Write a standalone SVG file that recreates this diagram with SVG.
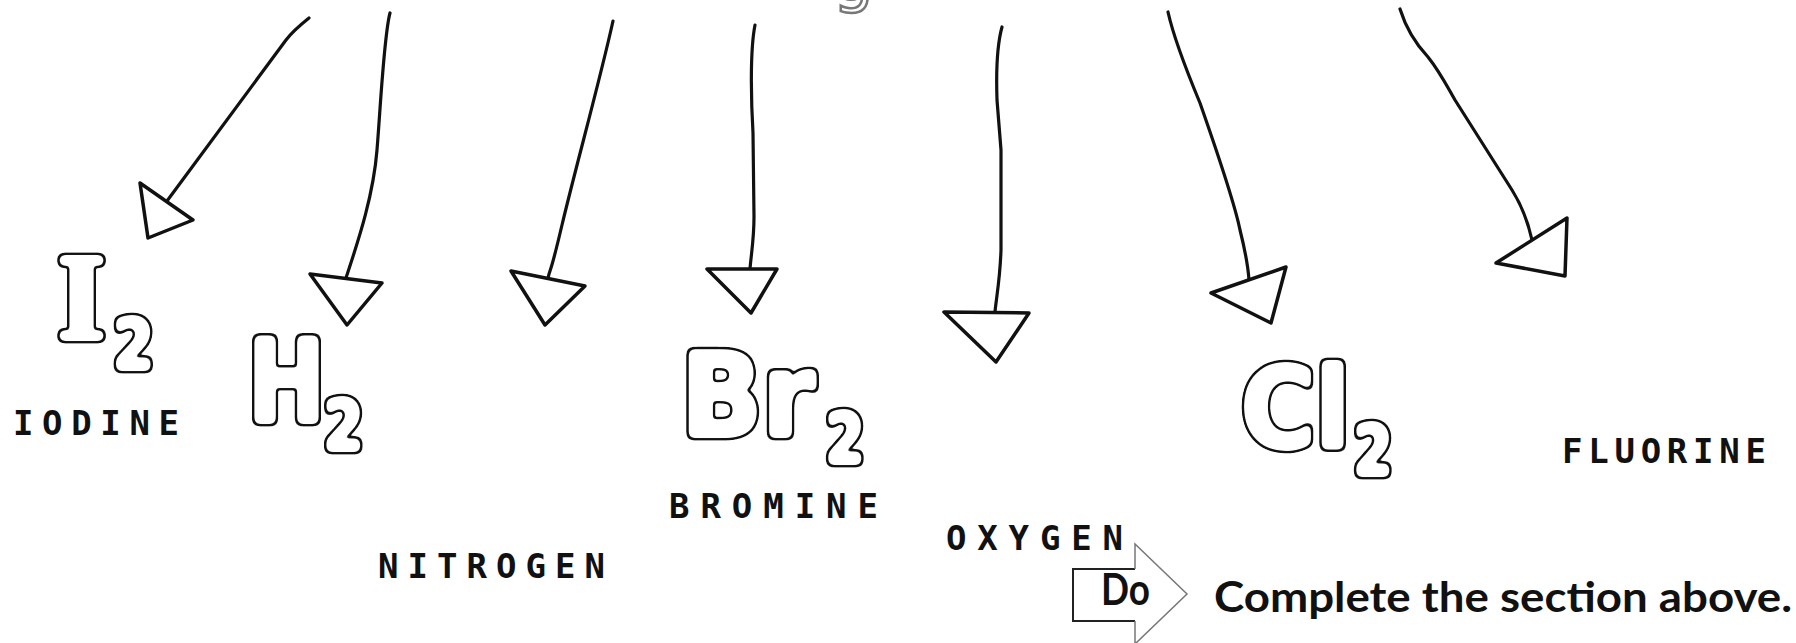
<svg xmlns="http://www.w3.org/2000/svg" width="1796" height="643" viewBox="0 0 1796 643">
  <defs>
    <style>
      .wire { fill: none; stroke: #111; stroke-width: 3.2; stroke-linecap: round; stroke-linejoin: round; }
      .head { fill: #fff; stroke: #111; stroke-width: 3.5; stroke-linejoin: round; }
      .sym { fill: #111; font-family: "DejaVu Sans", "Liberation Sans", sans-serif; font-weight: bold; filter: url(#bubble); }
      .slab { font-family: "DejaVu Serif", "Liberation Serif", serif; }
      .name { fill: #111; font-family: "DejaVu Sans Mono", "Liberation Mono", monospace; font-weight: bold; font-size: 34px; }
      .task { fill: #111; font-family: Lato, "Open Sans", sans-serif; font-weight: bold; }
    </style>
    <!-- bubble lettering: the glyph is swollen with a soft blur + threshold,
         a wider swell gives the black rim and a narrower one the white body -->
    <filter id="bubble" filterUnits="userSpaceOnUse" x="0" y="0" width="1796" height="643" color-interpolation-filters="sRGB">
      <feGaussianBlur in="SourceAlpha" stdDeviation="2.5" result="soft"/>
      <feComponentTransfer in="soft" result="outer">
        <feFuncA type="linear" slope="32" intercept="-0.65"/>
      </feComponentTransfer>
      <feComponentTransfer in="soft" result="inner">
        <feFuncA type="linear" slope="9" intercept="-1.41"/>
      </feComponentTransfer>
      <feFlood flood-color="#111" result="ink"/>
      <feComposite in="ink" in2="outer" operator="in" result="rim"/>
      <feFlood flood-color="#fff" result="paper"/>
      <feComposite in="paper" in2="inner" operator="in" result="body"/>
      <feMerge>
        <feMergeNode in="rim"/>
        <feMergeNode in="body"/>
      </feMerge>
    </filter>
  </defs>

  <rect width="1796" height="643" fill="#fff"/>

  <!-- descender of the heading line, cropped at the top edge -->
  <text x="833" y="0" font-family="DejaVu Sans, sans-serif" font-size="64" fill="#fff" stroke="#777" stroke-width="2.5">g</text>

  <!-- hand-drawn arrows pointing at each element -->
  <g id="connectors">
    <path class="wire" d="M309,18 C299,26 292,32 286,40 L167,201"/>
    <polygon class="head" points="140,183 193,220 148,238"/>

    <path class="wire" d="M390,13 C384,35 381,100 377,150 S355,250 346,278"/>
    <polygon class="head" points="310,274 382,283 347,325"/>

    <path class="wire" d="M613,21 C600,80 575,170 562,225 S551,265 548,278"/>
    <polygon class="head" points="511,271 585,286 545,325"/>

    <path class="wire" d="M755,25 C750,50 751,100 753,133 L754,217 C754,240 751,255 750,269"/>
    <polygon class="head" points="707,269 777,269 751,313"/>

    <path class="wire" d="M1002,27 C997,45 996,70 997,100 L1001,150 L1001,250 C1000,280 996,300 995,312"/>
    <polygon class="head" points="944,312 1029,313 996,362"/>

    <path class="wire" d="M1168,12 C1172,30 1180,55 1200,103 C1220,160 1236,210 1240,230 C1245,250 1248,265 1249,280"/>
    <polygon class="head" points="1211,293 1286,267 1271,323"/>

    <path class="wire" d="M1400,9 C1405,25 1412,40 1428,57 C1440,72 1448,88 1455,100 L1512,190 C1522,206 1528,222 1532,240"/>
    <polygon class="head" points="1496,263 1567,218 1565,276"/>
  </g>

  <!-- iodine -->
  <g id="iodine">
    <text class="sym slab" x="56.5" y="338.5" font-size="112" textLength="50" lengthAdjust="spacingAndGlyphs">I</text>
    <text class="sym" x="113.5" y="368.5" font-size="70" textLength="40" lengthAdjust="spacingAndGlyphs">2</text>
    <text class="name" x="13" y="435" textLength="166" lengthAdjust="spacing">IODINE</text>
  </g>

  <!-- hydrogen -->
  <g id="hydrogen">
    <text class="sym" x="248" y="421.5" font-size="115" textLength="77" lengthAdjust="spacingAndGlyphs">H</text>
    <text class="sym" x="324" y="449.5" font-size="69" textLength="39" lengthAdjust="spacingAndGlyphs">2</text>
  </g>

  <!-- nitrogen -->
  <g id="nitrogen">
    <text class="name" x="378" y="578" textLength="227" lengthAdjust="spacing">NITROGEN</text>
  </g>

  <!-- bromine -->
  <g id="bromine">
    <text class="sym" x="681" y="435.5" font-size="115" textLength="134" lengthAdjust="spacingAndGlyphs">Br</text>
    <text class="sym" x="826" y="462.5" font-size="69" textLength="38" lengthAdjust="spacingAndGlyphs">2</text>
    <text class="name" x="669" y="518" textLength="209" lengthAdjust="spacing">BROMINE</text>
  </g>

  <!-- oxygen -->
  <g id="oxygen">
    <text class="name" x="946" y="550" textLength="177" lengthAdjust="spacing">OXYGEN</text>
  </g>

  <!-- chlorine -->
  <g id="chlorine">
    <text class="sym" x="1241" y="446.5" font-size="112" textLength="109" lengthAdjust="spacingAndGlyphs">Cl</text>
    <text class="sym" x="1354" y="474.5" font-size="69" textLength="38" lengthAdjust="spacingAndGlyphs">2</text>
  </g>

  <!-- fluorine -->
  <g id="fluorine">
    <text class="name" x="1562" y="463" font-size="31" textLength="204" lengthAdjust="spacing">FLUORINE</text>
  </g>

  <!-- instruction arrow -->
  <g id="do-task">
    <path d="M1073,569 H1135 V544 L1187,594 L1135,644 V621 H1073 Z" fill="#fff"/>
    <path d="M1135,569 H1073 V621 H1135" fill="none" stroke="#222" stroke-width="2"/>
    <path d="M1135,569 V544 L1187,594 L1135,644 V621" fill="none" stroke="#777" stroke-width="1.5"/>
    <text class="task" x="1101" y="605" font-size="43" textLength="49" lengthAdjust="spacingAndGlyphs">Do</text>
    <text class="task" x="1214" y="612" font-size="42" textLength="578" lengthAdjust="spacingAndGlyphs">Complete the section above.</text>
  </g>
</svg>
